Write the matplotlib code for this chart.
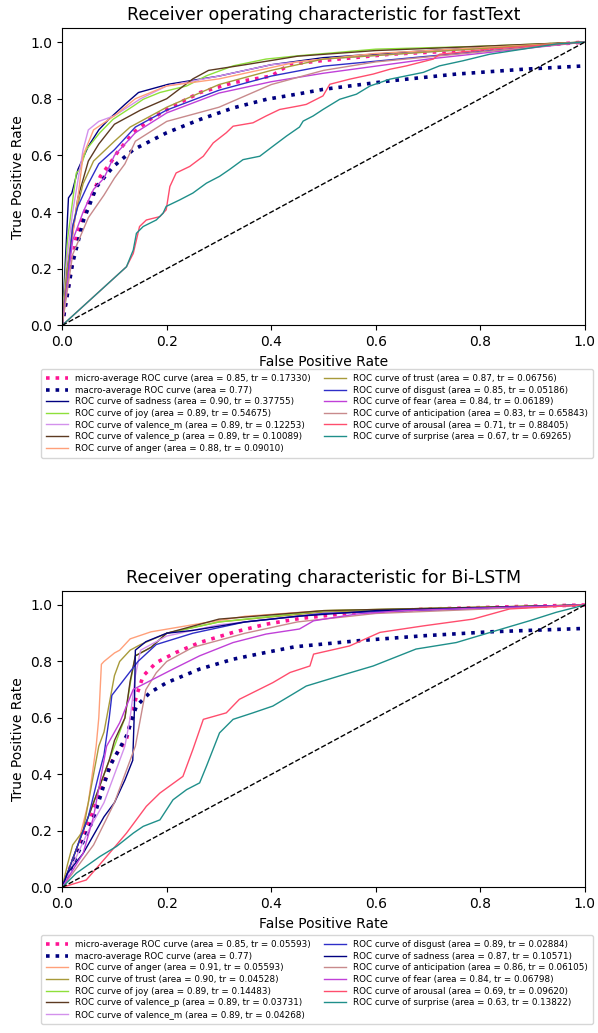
import matplotlib
matplotlib.use("Agg")
import matplotlib.pyplot as plt

# ---------------------------------
# colours per class
# ---------------------------------
colors = {
    "sadness": "#000080",
    "joy": "#8ee03a",
    "valence_m": "#d391ec",
    "valence_p": "#5c3a21",
    "anger": "#ffa07a",
    "trust": "#a89a3a",
    "disgust": "#2e2ec8",
    "fear": "#c040d8",
    "anticipation": "#c88a8c",
    "arousal": "#ff4d6d",
    "surprise": "#1f8f8a",
}

# ---------------------------------
# fastText curves (fpr, tpr)
# ---------------------------------
ft_order = ["sadness", "joy", "valence_m", "valence_p", "anger",
            "trust", "disgust", "fear", "anticipation", "arousal", "surprise"]
ft_area = [0.90, 0.89, 0.89, 0.89, 0.88, 0.87, 0.85, 0.84, 0.83, 0.71, 0.67]
ft_tr = ["0.37755", "0.54675", "0.12253", "0.10089", "0.09010",
         "0.06756", "0.05186", "0.06189", "0.65843", "0.88405", "0.69265"]
ft_micro = (0.85, "0.17330")
ft_macro = 0.77

ft_micro_fpr = [0, 0.027, 0.047, 0.073, 0.092, 0.105, 0.136, 0.168, 0.212, 0.264, 0.328, 0.40, 0.436, 0.50, 0.627, 0.818, 1.0]
ft_micro_tpr = [0, 0.313, 0.42, 0.526, 0.573, 0.609, 0.68, 0.727, 0.774, 0.822, 0.857, 0.88, 0.922, 0.935, 0.957, 0.975, 1.0]
ft_macro_fpr = [0, 0.02, 0.041, 0.066, 0.098, 0.136, 0.20, 0.264, 0.328, 0.391, 0.455, 0.499, 0.627, 0.754, 0.882, 1.0]
ft_macro_tpr = [0, 0.22, 0.372, 0.49, 0.561, 0.62, 0.68, 0.727, 0.768, 0.798, 0.818, 0.833, 0.863, 0.887, 0.904, 0.916]

ft_fpr = {
    "sadness": [0, 0.012, 0.0185, 0.03, 0.05, 0.07, 0.089, 0.12, 0.146, 0.203, 0.30, 0.40, 0.50, 0.70, 1.0],
    "joy": [0, 0.01, 0.027, 0.034, 0.046, 0.072, 0.097, 0.136, 0.155, 0.187, 0.238, 0.276, 0.327, 0.39, 0.454, 0.60, 0.80, 1.0],
    "valence_m": [0, 0.01, 0.02, 0.04, 0.05, 0.07, 0.10, 0.15, 0.20, 0.30, 0.40, 0.50, 0.70, 1.0],
    "valence_p": [0, 0.01, 0.03, 0.05, 0.07, 0.10, 0.15, 0.20, 0.25, 0.28, 0.35, 0.45, 0.60, 1.0],
    "anger": [0, 0.015, 0.03, 0.04, 0.06, 0.10, 0.14, 0.20, 0.30, 0.45, 0.60, 1.0],
    "trust": [0, 0.01, 0.02, 0.04, 0.06, 0.10, 0.13, 0.20, 0.30, 0.40, 0.50, 0.70, 1.0],
    "disgust": [0, 0.01, 0.02, 0.03, 0.05, 0.07, 0.10, 0.14, 0.20, 0.30, 0.40, 0.50, 0.70, 1.0],
    "fear": [0, 0.02, 0.04, 0.06, 0.08, 0.10, 0.14, 0.20, 0.30, 0.40, 0.50, 0.70, 1.0],
    "anticipation": [0, 0.02, 0.05, 0.08, 0.10, 0.12, 0.14, 0.20, 0.30, 0.40, 0.50, 0.60, 1.0],
    "arousal": [0, 0.123, 0.136, 0.148, 0.161, 0.187, 0.199, 0.206, 0.218, 0.244, 0.27, 0.289, 0.314, 0.327,
                0.365, 0.39, 0.416, 0.454, 0.467, 0.499, 0.512, 0.55, 0.595, 0.627, 0.659, 0.71, 0.722, 0.818, 1.0],
    "surprise": [0, 0.123, 0.136, 0.142, 0.155, 0.18, 0.193, 0.199, 0.225, 0.25, 0.276, 0.301, 0.32, 0.346,
                 0.378, 0.403, 0.429, 0.454, 0.461, 0.48, 0.499, 0.531, 0.563, 0.589, 0.627, 0.691, 0.722,
                 0.767, 0.818, 0.945, 1.0],
}
ft_tpr = {
    "sadness": [0, 0.45, 0.467, 0.55, 0.632, 0.69, 0.727, 0.78, 0.822, 0.851, 0.88, 0.92, 0.945, 0.97, 1.0],
    "joy": [0, 0.30, 0.538, 0.55, 0.62, 0.68, 0.727, 0.774, 0.798, 0.822, 0.845, 0.881, 0.916, 0.94, 0.952, 0.975, 0.985, 1.0],
    "valence_m": [0, 0.25, 0.40, 0.62, 0.69, 0.72, 0.74, 0.80, 0.845, 0.88, 0.92, 0.94, 0.965, 1.0],
    "valence_p": [0, 0.20, 0.45, 0.58, 0.64, 0.71, 0.76, 0.80, 0.87, 0.90, 0.92, 0.95, 0.97, 1.0],
    "anger": [0, 0.25, 0.45, 0.60, 0.69, 0.74, 0.80, 0.845, 0.87, 0.93, 0.96, 1.0],
    "trust": [0, 0.20, 0.35, 0.50, 0.58, 0.65, 0.70, 0.77, 0.85, 0.90, 0.94, 0.965, 1.0],
    "disgust": [0, 0.15, 0.35, 0.42, 0.50, 0.57, 0.62, 0.70, 0.76, 0.83, 0.88, 0.915, 0.95, 1.0],
    "fear": [0, 0.30, 0.40, 0.48, 0.52, 0.60, 0.68, 0.75, 0.82, 0.86, 0.89, 0.94, 1.0],
    "anticipation": [0, 0.25, 0.38, 0.46, 0.52, 0.57, 0.65, 0.72, 0.77, 0.85, 0.90, 0.93, 1.0],
    "arousal": [0, 0.207, 0.254, 0.349, 0.372, 0.384, 0.408, 0.49, 0.538, 0.561, 0.597, 0.644, 0.68, 0.703,
                0.715, 0.739, 0.762, 0.775, 0.78, 0.81, 0.851, 0.869, 0.887, 0.904, 0.916, 0.94, 0.957, 0.975, 1.0],
    "surprise": [0, 0.207, 0.266, 0.325, 0.349, 0.372, 0.396, 0.42, 0.443, 0.467, 0.502, 0.526, 0.55, 0.585,
                 0.597, 0.632, 0.668, 0.70, 0.721, 0.739, 0.762, 0.798, 0.816, 0.845, 0.869, 0.893, 0.916,
                 0.934, 0.957, 0.993, 1.0],
}

# ---------------------------------
# Bi-LSTM curves
# ---------------------------------
bl_order = ["anger", "trust", "joy", "valence_p", "valence_m",
            "disgust", "sadness", "anticipation", "fear", "arousal", "surprise"]
bl_area = [0.91, 0.90, 0.89, 0.89, 0.89, 0.89, 0.87, 0.86, 0.84, 0.69, 0.63]
bl_tr = ["0.05593", "0.04528", "0.14483", "0.03731", "0.04268",
         "0.02884", "0.10571", "0.06105", "0.06798", "0.09620", "0.13822"]
bl_micro = (0.85, "0.05593")
bl_macro = 0.77

bl_micro_fpr = [0, 0.021, 0.053, 0.072, 0.097, 0.123, 0.142, 0.155, 0.18, 0.218, 0.263, 0.327, 0.39, 0.454, 0.563, 0.691, 0.882, 1.0]
bl_micro_tpr = [0, 0.097, 0.239, 0.334, 0.453, 0.524, 0.678, 0.749, 0.796, 0.832, 0.867, 0.903, 0.932, 0.952, 0.974, 0.985, 0.995, 1.0]
bl_macro_fpr = [0, 0.027, 0.059, 0.091, 0.123, 0.142, 0.168, 0.20, 0.263, 0.327, 0.39, 0.445, 0.563, 0.691, 0.818, 1.0]
bl_macro_tpr = [0, 0.109, 0.239, 0.429, 0.536, 0.642, 0.69, 0.725, 0.773, 0.808, 0.832, 0.852, 0.873, 0.891, 0.905, 0.917]

bl_fpr = {
    "anger": [0, 0.01, 0.03, 0.05, 0.065, 0.07, 0.075, 0.08, 0.10, 0.11, 0.13, 0.17, 0.25, 0.35, 0.50, 1.0],
    "trust": [0, 0.01, 0.02, 0.04, 0.05, 0.06, 0.07, 0.08, 0.09, 0.10, 0.11, 0.13, 0.15, 0.20, 0.30, 0.50, 1.0],
    "joy": [0, 0.02, 0.05, 0.08, 0.10, 0.12, 0.13, 0.14, 0.17, 0.20, 0.30, 0.50, 1.0],
    "valence_p": [0, 0.02, 0.05, 0.07, 0.09, 0.10, 0.12, 0.13, 0.14, 0.17, 0.20, 0.30, 0.50, 1.0],
    "valence_m": [0, 0.02, 0.05, 0.08, 0.10, 0.12, 0.13, 0.14, 0.15, 0.20, 0.30, 0.50, 1.0],
    "disgust": [0, 0.01, 0.03, 0.05, 0.07, 0.08, 0.09, 0.095, 0.12, 0.145, 0.18, 0.25, 0.35, 0.50, 1.0],
    "sadness": [0, 0.01, 0.04, 0.08, 0.10, 0.12, 0.135, 0.138, 0.14, 0.16, 0.20, 0.25, 0.35, 0.45, 0.60, 1.0],
    "anticipation": [0, 0.02, 0.06, 0.10, 0.12, 0.14, 0.15, 0.16, 0.18, 0.20, 0.25, 0.35, 0.45, 0.60, 1.0],
    "fear": [0, 0.02, 0.04, 0.06, 0.075, 0.085, 0.11, 0.136, 0.174, 0.212, 0.263, 0.327, 0.39, 0.454,
             0.481, 0.563, 0.652, 0.818, 1.0],
    "arousal": [0, 0.046, 0.085, 0.123, 0.161, 0.187, 0.231, 0.25, 0.27, 0.314, 0.339, 0.365, 0.403, 0.436,
                0.474, 0.481, 0.55, 0.608, 0.691, 0.786, 0.856, 1.0],
    "surprise": [0, 0.027, 0.072, 0.104, 0.136, 0.155, 0.187, 0.212, 0.238, 0.263, 0.276, 0.301, 0.327, 0.365,
                 0.403, 0.441, 0.467, 0.531, 0.595, 0.677, 0.754, 0.83, 0.894, 0.945, 1.0],
}
bl_tpr = {
    "anger": [0, 0.05, 0.15, 0.30, 0.50, 0.60, 0.79, 0.80, 0.83, 0.84, 0.88, 0.905, 0.93, 0.96, 0.98, 1.0],
    "trust": [0, 0.08, 0.15, 0.20, 0.30, 0.40, 0.50, 0.55, 0.65, 0.75, 0.80, 0.84, 0.86, 0.90, 0.94, 0.975, 1.0],
    "joy": [0, 0.10, 0.25, 0.40, 0.50, 0.60, 0.72, 0.82, 0.85, 0.90, 0.94, 0.98, 1.0],
    "valence_p": [0, 0.10, 0.25, 0.35, 0.45, 0.52, 0.60, 0.73, 0.82, 0.85, 0.90, 0.95, 0.98, 1.0],
    "valence_m": [0, 0.08, 0.20, 0.30, 0.40, 0.50, 0.60, 0.75, 0.84, 0.89, 0.93, 0.97, 1.0],
    "disgust": [0, 0.05, 0.15, 0.25, 0.40, 0.47, 0.60, 0.68, 0.74, 0.80, 0.86, 0.90, 0.94, 0.97, 1.0],
    "sadness": [0, 0.05, 0.12, 0.25, 0.30, 0.38, 0.45, 0.62, 0.84, 0.87, 0.90, 0.91, 0.94, 0.96, 0.98, 1.0],
    "anticipation": [0, 0.05, 0.15, 0.30, 0.40, 0.50, 0.60, 0.70, 0.76, 0.80, 0.85, 0.90, 0.94, 0.97, 1.0],
    "fear": [0, 0.06, 0.12, 0.25, 0.40, 0.50, 0.583, 0.701, 0.737, 0.773, 0.82, 0.867, 0.897, 0.915,
             0.944, 0.968, 0.98, 0.99, 1.0],
    "arousal": [0, 0.026, 0.109, 0.192, 0.287, 0.334, 0.393, 0.488, 0.595, 0.618, 0.666, 0.69, 0.725, 0.761,
                0.784, 0.826, 0.855, 0.903, 0.926, 0.95, 0.986, 1.0],
    "surprise": [0, 0.05, 0.109, 0.145, 0.192, 0.216, 0.239, 0.31, 0.346, 0.37, 0.429, 0.547, 0.595, 0.618,
                 0.642, 0.684, 0.713, 0.749, 0.784, 0.844, 0.867, 0.909, 0.944, 0.974, 1.0],
}


def draw_roc(ax, title, micro_fpr, micro_tpr, micro, macro_fpr, macro_tpr, macro,
             order, fprs, tprs, areas, trs):
    ax.plot(micro_fpr, micro_tpr, color="deeppink", linestyle=":", linewidth=2.6,
            label="micro-average ROC curve (area = {0:0.2f}, tr = {1})".format(micro[0], micro[1]))
    ax.plot(macro_fpr, macro_tpr, color="navy", linestyle=":", linewidth=2.6,
            label="macro-average ROC curve (area = {0:0.2f})".format(macro))
    for name, area, tr in zip(order, areas, trs):
        ax.plot(fprs[name], tprs[name], color=colors[name], linewidth=1,
                label="ROC curve of {0} (area = {1:0.2f}, tr = {2})".format(name, area, tr))
    ax.plot([0, 1], [0, 1], "k--", linewidth=1)
    ax.set_xlim(0.0, 1.0)
    ax.set_ylim(0.0, 1.05)
    ax.set_xlabel("False Positive Rate", fontsize=10)
    ax.set_ylabel("True Positive Rate", fontsize=10)
    ax.set_title(title, fontsize=12.5)
    ax.tick_params(labelsize=10)


fig = plt.figure(figsize=(5.98, 10.33), dpi=100)

ax1 = fig.add_axes([0.104, 0.685, 0.874, 0.288])
draw_roc(ax1, "Receiver operating characteristic for fastText",
         ft_micro_fpr, ft_micro_tpr, ft_micro, ft_macro_fpr, ft_macro_tpr, ft_macro,
         ft_order, ft_fpr, ft_tpr, ft_area, ft_tr)
fig.legend(*ax1.get_legend_handles_labels(), loc="upper center",
           bbox_to_anchor=(0.53, 0.643), borderaxespad=0, ncol=2, fontsize=6.3,
           handlelength=2.5, borderpad=0.6, labelspacing=0.3, columnspacing=1.5, fancybox=True)

ax2 = fig.add_axes([0.104, 0.141, 0.874, 0.287])
draw_roc(ax2, "Receiver operating characteristic for Bi-LSTM",
         bl_micro_fpr, bl_micro_tpr, bl_micro, bl_macro_fpr, bl_macro_tpr, bl_macro,
         bl_order, bl_fpr, bl_tpr, bl_area, bl_tr)
fig.legend(*ax2.get_legend_handles_labels(), loc="upper center",
           bbox_to_anchor=(0.53, 0.095), borderaxespad=0, ncol=2, fontsize=6.3,
           handlelength=2.5, borderpad=0.6, labelspacing=0.3, columnspacing=1.5, fancybox=True)

fig.savefig("out.png", dpi=100)
